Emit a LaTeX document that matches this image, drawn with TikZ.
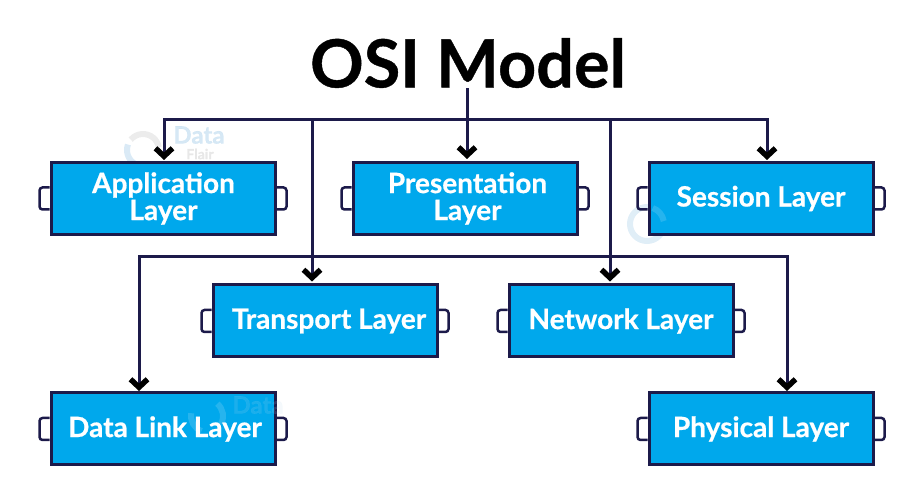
\documentclass[tikz,border=0pt]{standalone}
\usepackage{fontspec}
\setmainfont{Lato}[BoldFeatures={FakeBold=0.6}]
\usetikzlibrary{arrows.meta}
\definecolor{layerblue}{HTML}{00A8EC}
\definecolor{linknavy}{HTML}{1C1A4A}
\definecolor{markblue}{HTML}{BBD9EE}
\definecolor{markgrey}{HTML}{E4E4E4}
\tikzset{
  layer/.style={draw=linknavy, line width=3pt, fill=layerblue, text=white, font=\bfseries\fontsize{28}{28}\selectfont,
    minimum width=224pt, minimum height=72pt, align=center, inner sep=0pt},
  wire/.style={draw=linknavy, line width=3pt},
  drop/.style={wire, -{Straight Barb[black, length=8pt, width=17pt, line width=5.5pt]}, shorten >=2pt},
  tabline/.style={draw=linknavy, line width=2.5pt, rounded corners=3pt},
  logoring/.style={line width=6pt},
  logotext/.style={text=markblue, opacity=0.6, font=\bfseries\fontsize{24}{24}\selectfont, inner sep=0pt}
}
\begin{document}
\begin{tikzpicture}[x=1pt, y=-1pt]
  \useasboundingbox (0, 0) rectangle (924, 502);

  % Title
  \node[font=\bfseries\fontsize{66.5}{66.5}\selectfont, inner sep=0pt] (title) at (468, 63) {OSI Model};

  % Logos under the boxes
  \draw[logoring, markblue, opacity=0.55] (143, 150) ++(70:16) arc[start angle=70, delta angle=130, radius=16];
  \draw[logoring, markgrey, opacity=0.7] (143, 150) ++(220:16) arc[start angle=220, delta angle=130, radius=16];
  \node[logotext] (logoa) at (199, 135) {Data};
  \node[logotext, text=black!15, font=\bfseries\fontsize{14}{14}\selectfont] (logob) at (200, 154) {Flair};
  \draw[logoring, markblue, opacity=0.45] (647, 224) circle (17);

  % Layers
  \node[layer] (app) at (163, 198.5) {\hspace{1pt}Application\\[-1pt]\hspace{1pt}Layer};
  \node[layer] (pres) at (465, 198.5) {\hspace{5pt}Presentation\\[-1pt]\hspace{5pt}Layer};
  \node[layer] (sess) at (761, 198.5) {Session Layer};
  \node[layer] (trans) at (325, 321) {\hspace{8pt}Transport Layer};
  \node[layer] (net) at (621, 321) {Network Layer};
  \node[layer] (data) at (163, 429) {\hspace{4pt}Data Link Layer};
  \node[layer] (phys) at (761, 429) {Physical Layer};

  % Tabs
  \foreach \n in {app, pres, sess, trans, net, data, phys} {
    \draw[tabline] ([yshift=11pt]\n.west) -- ++(-10, 0) -- ++(0, 22) -- ++(10, 0);
    \draw[tabline] ([yshift=11pt]\n.east) -- ++(10, 0) -- ++(0, 22) -- ++(-10, 0);
  }

  % Logos over the boxes
  \draw[logoring, white, opacity=0.15] (647, 224) ++(-70:17) arc[start angle=-70, delta angle=60, radius=17];
  \draw[logoring, white, opacity=0.15] (207, 416) ++(-50:16) arc[start angle=-50, delta angle=80, radius=16];
  \draw[logoring, white, opacity=0.15] (207, 416) ++(110:16) arc[start angle=110, delta angle=80, radius=16];
  \node[logotext, opacity=0.15] (logoc) at (258, 405) {Data};

  % Links
  \coordinate (hub) at (467, 120);
  \coordinate (busa) at (312, 120);
  \coordinate (busb) at (610, 120);
  \coordinate (busc) at (312, 257);
  \draw[wire] (hub |- title.south) -- (hub);
  \draw[drop] (hub) -- (hub |- pres.north);
  \draw[drop] (hub) -| (164, 162);
  \draw[drop] (hub) -| (767, 162);
  \draw[drop] (busa) -- (busa |- trans.north);
  \draw[drop] (busb) -- (busb |- net.north);
  \draw[drop] (busc) -| (139, 393);
  \draw[drop] (busc) -| (787, 393);
\end{tikzpicture}
\end{document}
